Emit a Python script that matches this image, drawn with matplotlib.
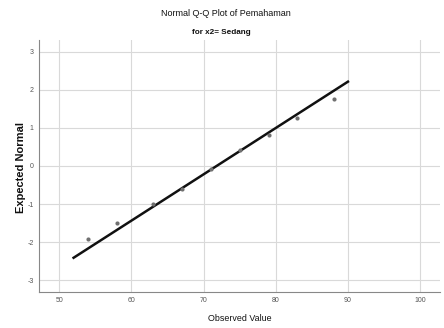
import matplotlib
matplotlib.use("Agg")
import matplotlib.pyplot as plt

obs_values = [54, 58, 63, 67, 71, 75, 79, 83, 88]
expected_normal = [-1.93, -1.50, -0.99, -0.60, -0.09, 0.42, 0.81, 1.26, 1.75]
line_x = [52, 90]
line_y = [-2.41, 2.21]
x_ticks = [50, 60, 70, 80, 90, 100]
y_ticks = [-3, -2, -1, 0, 1, 2, 3]

plt.rcParams['font.family'] = ['Liberation Sans', 'DejaVu Sans']
plt.rcParams['axes.unicode_minus'] = False

fig = plt.figure(figsize=(4.44, 3.28), dpi=100)

ax = fig.add_axes([0.0885, 0.1107, 0.9025, 0.767])
ax.set_xlim(47.25, 102.75)
ax.set_ylim(-3.3, 3.3)
ax.set_xticks(x_ticks)
ax.set_yticks(y_ticks)
ax.grid(True, color="#d9d9d9", linewidth=0.8)
ax.set_axisbelow(True)
for s in ["top", "right"]:
    ax.spines[s].set_visible(False)
for s in ["left", "bottom"]:
    ax.spines[s].set_color("#888888")
    ax.spines[s].set_linewidth(0.8)
ax.tick_params(length=0, labelsize=5, colors="#555555", pad=4)

ax.plot(line_x, line_y, color="#111111", linewidth=1.8, zorder=3)
ax.scatter(obs_values, expected_normal, s=9, color="#707070", zorder=4, linewidths=0)

fig.text(0.508, 0.959, "Normal Q-Q Plot of Pemahaman", ha="center", va="center",
         fontsize=6.5, color="#111111")
fig.text(0.498, 0.902, "for x2= Sedang", ha="center", va="center", fontsize=5.9,
         color="#111111", fontweight="bold")
ax.set_xlabel("Observed Value", fontsize=6.4, color="#111111", labelpad=7)
fig.text(0.047, 0.49, "Expected Normal", rotation=90, ha="center", va="center",
         fontsize=8.0, fontweight="bold", color="#111111")

fig.savefig("out.png", dpi=100)
